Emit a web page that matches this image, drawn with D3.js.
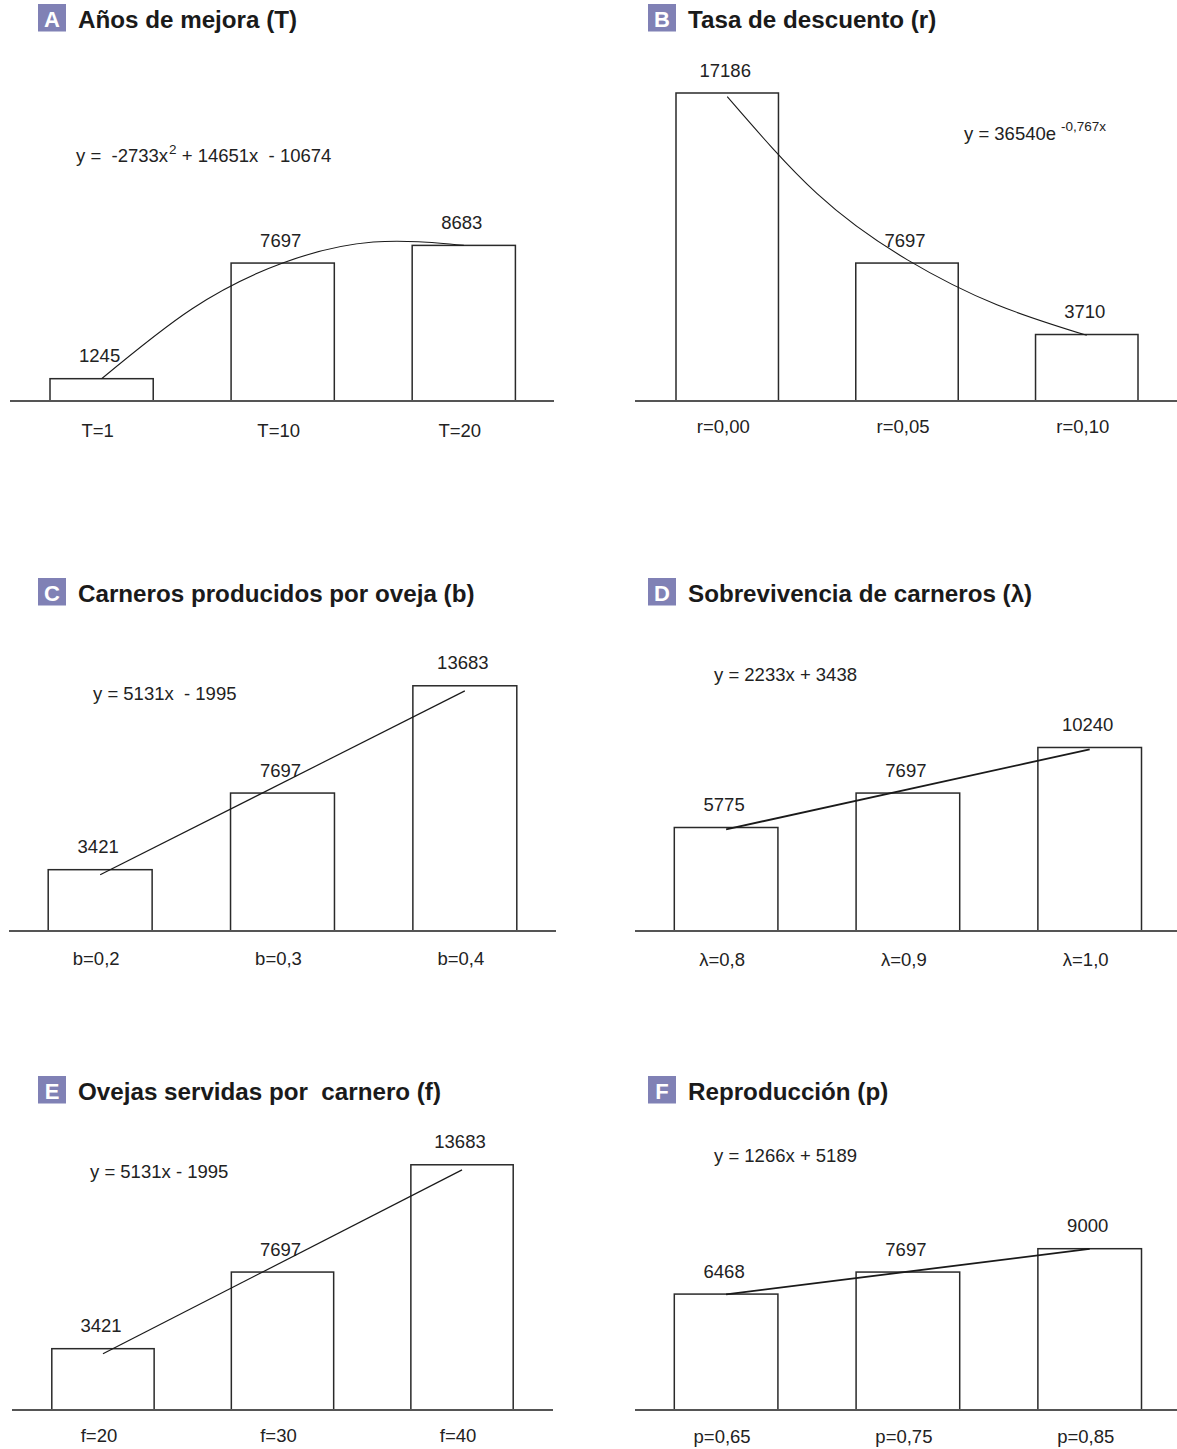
<!DOCTYPE html>
<html>
<head>
<meta charset="utf-8">
<script src="https://cdn.jsdelivr.net/npm/d3@7"></script>
<style>
  body { margin: 0; background: #fff; }
  svg { display: block; }
  text { font-family: "Liberation Sans", Arial, Helvetica, sans-serif; fill: #222; white-space: pre; }
</style>
</head>
<body>
<svg id="chart" width="1177" height="1449"></svg>
<script>
// ---- data ----
const panelLetters = ["A", "B", "C", "D", "E", "F"];
const panelTitles = [
  "Años de mejora (T)",
  "Tasa de descuento (r)",
  "Carneros producidos por oveja (b)",
  "Sobrevivencia de carneros (λ)",
  "Ovejas servidas por  carnero (f)",
  "Reproducción (p)"
];

const catsA = ["T=1", "T=10", "T=20"];
const catsB = ["r=0,00", "r=0,05", "r=0,10"];
const catsC = ["b=0,2", "b=0,3", "b=0,4"];
const catsD = ["λ=0,8", "λ=0,9", "λ=1,0"];
const catsE = ["f=20", "f=30", "f=40"];
const catsF = ["p=0,65", "p=0,75", "p=0,85"];

const valuesA = [1245, 7697, 8683];
const valuesB = [17186, 7697, 3710];
const valuesC = [3421, 7697, 13683];
const valuesD = [5775, 7697, 10240];
const valuesE = [3421, 7697, 13683];
const valuesF = [6468, 7697, 9000];

const trendXA = [1, 1.5, 2, 2.5, 3];
const trendYA = [1244, 5150, 7700, 8870, 8685];
const trendXB = [1, 1.5, 2, 2.5, 3];
const trendYB = [16980, 11570, 7890, 5370, 3665];
const trendXC = [1, 3];
const trendYC = [3136, 13398];
const trendXD = [1, 3];
const trendYD = [5671, 10137];
const trendXE = [1, 3];
const trendYE = [3136, 13398];
const trendXF = [1, 3];
const trendYF = [6455, 8987];

// equation text: [main, superscript, rest]
const equations = [
  ["y =  -2733x", "2", " + 14651x  - 10674"],
  ["y = 36540e", "-0,767x", ""],
  ["y = 5131x  - 1995", "", ""],
  ["y = 2233x + 3438", "", ""],
  ["y = 5131x - 1995", "", ""],
  ["y = 1266x + 5189", "", ""]
];

const allCats = [catsA, catsB, catsC, catsD, catsE, catsF];
const allValues = [valuesA, valuesB, valuesC, valuesD, valuesE, valuesF];
const allTrendX = [trendXA, trendXB, trendXC, trendXD, trendXE, trendXF];
const allTrendY = [trendYA, trendYB, trendYC, trendYD, trendYE, trendYF];

// ---- layout ----
const layout = [
  { boxX: 38,  boxY: 4,    axisY: 401,  axis: [10, 554],   band: [50, 515.4],    eq: [76, 162],   catDy: 36, trendW: 1.1 },
  { boxX: 648, boxY: 4,    axisY: 401,  axis: [635, 1177], band: [676, 1138],    eq: [964, 140],  catDy: 32, trendW: 1.1 },
  { boxX: 38,  boxY: 578,  axisY: 931,  axis: [9, 556],    band: [48.2, 516.8],  eq: [93, 700],   catDy: 34, trendW: 1.2 },
  { boxX: 648, boxY: 578,  axisY: 931,  axis: [635, 1177], band: [674.3, 1141.5], eq: [714, 681], catDy: 35, trendW: 1.8 },
  { boxX: 38,  boxY: 1076, axisY: 1410, axis: [12, 553],   band: [51.8, 513.2],  eq: [90, 1178],  catDy: 32, trendW: 1.2 },
  { boxX: 648, boxY: 1076, axisY: 1410, axis: [635, 1177], band: [674.3, 1141.5], eq: [714, 1162], catDy: 33, trendW: 1.8 }
];

const svg = d3.select("#chart");
const boxColor = "#8081b5";

// same value-to-height scale in every panel
const h = d3.scaleLinear().domain([0, 17186]).range([0, 308]);

layout.forEach((L, i) => {
  const g = svg.append("g");
  const cats = allCats[i];
  const vals = allValues[i];

  const x = d3.scaleBand()
    .domain(cats)
    .range(L.band)
    .paddingInner(0.43)
    .paddingOuter(0);

  const y = d3.scaleLinear()
    .domain(h.domain())
    .range([L.axisY, L.axisY - h.range()[1]]);

  // --- title ---
  g.append("rect")
    .attr("x", L.boxX)
    .attr("y", L.boxY)
    .attr("width", 28)
    .attr("height", 27.5)
    .attr("fill", boxColor);

  g.append("text")
    .attr("x", L.boxX + 14)
    .attr("y", L.boxY + 22.5)
    .attr("text-anchor", "middle")
    .style("font-size", "22px")
    .style("font-weight", "bold")
    .style("fill", "#fff")
    .text(panelLetters[i]);

  g.append("text")
    .attr("x", L.boxX + 40)
    .attr("y", L.boxY + 23.5)
    .style("font-size", "24.2px")
    .style("font-weight", "bold")
    .style("fill", "#1a1a1a")
    .text(panelTitles[i]);

  // --- bars ---
  g.selectAll("rect.bar")
    .data(vals)
    .enter()
    .append("rect")
    .attr("class", "bar")
    .attr("x", (d, j) => x(cats[j]))
    .attr("y", d => y(d))
    .attr("width", x.bandwidth())
    .attr("height", d => L.axisY - y(d))
    .attr("fill", "#fff")
    .attr("stroke", "#2a2a2a")
    .attr("stroke-width", 1.5);

  // --- axis baseline ---
  g.append("line")
    .attr("x1", L.axis[0])
    .attr("x2", L.axis[1])
    .attr("y1", L.axisY)
    .attr("y2", L.axisY)
    .attr("stroke", "#555")
    .attr("stroke-width", 2);

  // --- value labels ---
  g.selectAll("text.val")
    .data(vals)
    .enter()
    .append("text")
    .attr("class", "val")
    .attr("x", (d, j) => x(cats[j]) + x.bandwidth() / 2 - 2)
    .attr("y", d => y(d) - 16.5)
    .attr("text-anchor", "middle")
    .style("font-size", "18.5px")
    .text(d => d);

  // --- category labels ---
  g.selectAll("text.cat")
    .data(cats)
    .enter()
    .append("text")
    .attr("class", "cat")
    .attr("x", d => x(d) + x.bandwidth() / 2 - 4)
    .attr("y", L.axisY + L.catDy)
    .attr("text-anchor", "middle")
    .style("font-size", "18.5px")
    .text(d => d);

  // --- trend line ---
  const xi = d3.scaleLinear()
    .domain([1, 3])
    .range([x(cats[0]) + x.bandwidth() / 2, x(cats[2]) + x.bandwidth() / 2]);

  const tx = allTrendX[i];
  const ty = allTrendY[i];
  const trendLine = d3.line()
    .x((d, j) => xi(tx[j]))
    .y(d => y(d))
    .curve(tx.length > 2 ? d3.curveNatural : d3.curveLinear);

  g.append("path")
    .datum(ty)
    .attr("d", trendLine)
    .attr("fill", "none")
    .attr("stroke", "#1a1a1a")
    .attr("stroke-width", L.trendW);

  // --- equation ---
  const eq = equations[i];
  const t = g.append("text")
    .attr("x", L.eq[0])
    .attr("y", L.eq[1])
    .style("font-size", "18.5px");
  t.append("tspan").text(eq[0]);
  if (eq[1]) {
    t.append("tspan")
      .attr("dx", i === 1 ? 5 : 1)
      .attr("dy", i === 1 ? -9 : -8)
      .style("font-size", i === 1 ? "13.5px" : "13.5px")
      .text(eq[1]);
  }
  if (eq[2]) {
    t.append("tspan")
      .attr("dy", 8)
      .text(eq[2]);
  }
});
</script>
</body>
</html>
